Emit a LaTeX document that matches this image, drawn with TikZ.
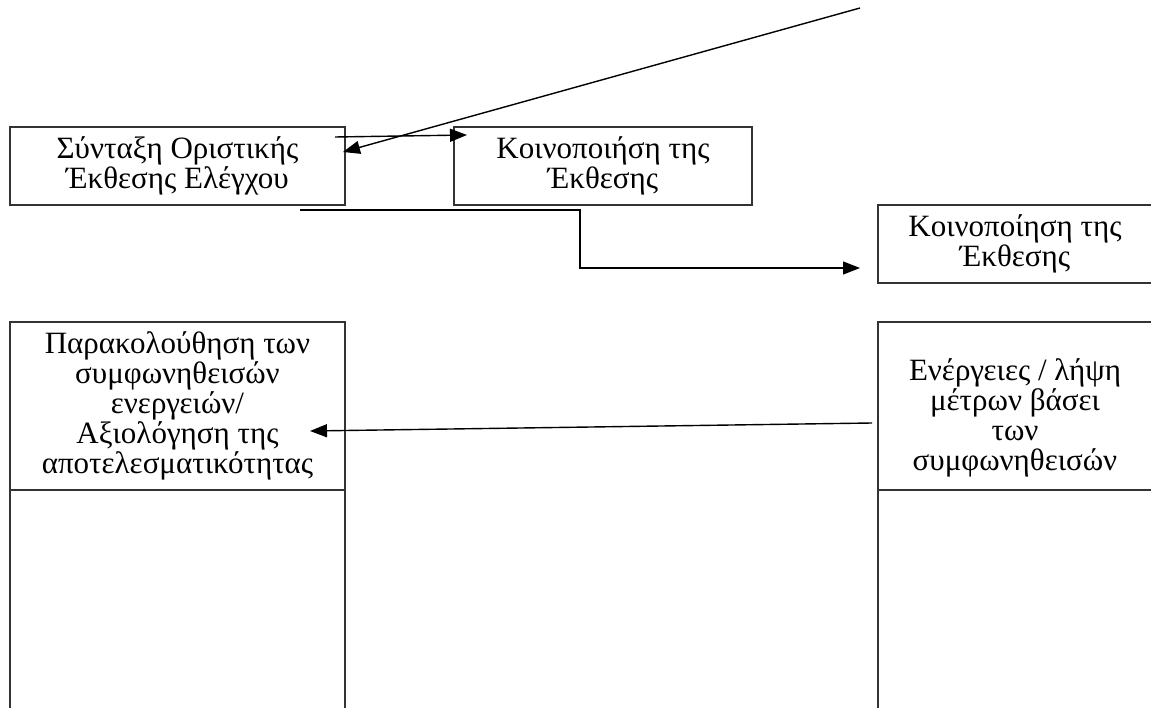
\documentclass[tikz,border=0pt]{standalone}
\usepackage{fontspec}
\setmainfont{Liberation Serif}
\usetikzlibrary{arrows.meta, positioning}

\begin{document}
\begin{tikzpicture}[
    x=1pt, y={(0pt,-1pt)},
    node distance=0pt,
    box/.style={rectangle, draw=black!80, line width=1.2pt, outer sep=0pt, inner sep=0pt, align=center, font=\fontsize{31}{30}\selectfont},
    arrow/.style={-{Triangle[length=17pt, width=13pt]}, line width=1.4pt}
]
    \useasboundingbox (0,0) rectangle (1151,708);
    \node[box, minimum width=335pt, minimum height=78pt] (draft) at (177.5,166) {Σύνταξη Οριστικής\\Έκθεσης Ελέγχου};
    \node[box, minimum width=298pt, minimum height=78pt, right=109pt of draft] (notify) {Κοινοποιήση της\\Έκθεσης};
    \node[box, minimum width=274pt, minimum height=78pt] (notifyb) at (1015,244) {Κοινοποίηση της\\Έκθεσης};
    \node[box, minimum width=335pt, minimum height=168pt, below=117pt of draft] (monitor) {Παρακολούθηση των\\συμφωνηθεισών\\ενεργειών/\\Αξιολόγηση της\\αποτελεσματικότητας};
    \node[box, minimum width=335pt, minimum height=240pt, below=of monitor] (monitorlow) {};
    \node[box, minimum width=274pt, minimum height=168pt, below=39pt of notifyb] (actions) {\rule{0pt}{46pt}Ενέργειες / λήψη\\μέτρων βάσει\\των\\συμφωνηθεισών};
    \node[box, minimum width=274pt, minimum height=240pt, below=of actions] (actionslow) {};
    \coordinate (topend) at (860,8);

    \draw[arrow] ([xshift=-10pt, yshift=-10pt]draft.north east) -- ([xshift=13pt, yshift=-8pt]notify.north west);
    \draw[arrow] (topend) -- ([xshift=-2pt, yshift=14pt]draft.east);
    \draw[arrow] ([xshift=-45pt, yshift=-5pt]draft.south east) -- ++(280,0) |- ([xshift=-18pt, yshift=15pt]notifyb.south west);
    \draw[arrow] ([xshift=-6pt, yshift=-17pt]actions.west) -- ([xshift=-35pt, yshift=-25pt]monitor.east);
\end{tikzpicture}
\end{document}
